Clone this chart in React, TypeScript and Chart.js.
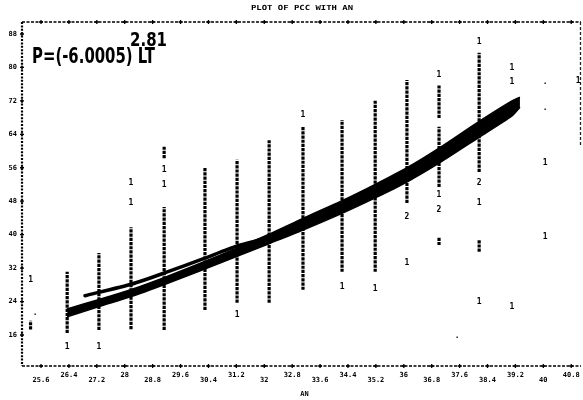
import React, { useEffect, useRef } from "react";
import { Chart, registerables } from "chart.js";

Chart.register(...registerables);

// ---- data ----
const xTicks = [25.6, 26.4, 27.2, 28, 28.8, 29.6, 30.4, 31.2, 32, 32.8, 33.6, 34.4, 35.2, 36, 36.8, 37.6, 38.4, 39.2, 40, 40.8];
const yTicks = [16, 24, 32, 40, 48, 56, 64, 72, 80, 88];

// thick fitted curve (upper and lower edge of the inked band)
const bandX = [26.35, 27.29, 28.21, 29.16, 30.24, 31.22, 32.17, 33.11, 34.23, 35.18, 36.09, 37.01, 38.16, 39.1, 39.33];
const bandTop = [22.25, 24.55, 26.95, 29.85, 33.4, 36.8, 40.25, 43.9, 48.1, 52.0, 56.0, 60.7, 67.1, 72.0, 72.9];
const bandBottom = [20.35, 22.85, 25.25, 28.15, 31.6, 34.8, 37.95, 41.1, 45.1, 48.8, 52.6, 57.1, 63.3, 68.4, 70.5];

// thin hand-drawn line above the band
const fitX = [26.86, 28.21, 29.16, 30.24, 31.22, 31.94];
const fitY = [25.4, 28.2, 30.9, 34.2, 37.3, 38.9];

// stacked printer columns (x, low, high)
const segX = [26.35, 27.26, 28.18, 29.13, 29.13, 30.3, 31.22, 32.14, 33.11, 34.23, 35.18, 36.09, 37.01, 37.01, 37.01, 38.16, 38.16, 25.3];
const segLow = [16.5, 17.2, 17.4, 17.2, 58.3, 22.0, 23.7, 23.7, 26.8, 31.1, 31.1, 47.6, 51.4, 67.9, 37.5, 55.0, 35.9, 17.3];
const segHigh = [31.1, 35.6, 41.8, 46.6, 61.0, 56.2, 57.9, 62.6, 65.8, 67.4, 72.2, 77.0, 65.8, 75.8, 39.4, 83.5, 38.7, 19.4];

// isolated printed characters
const charX = [26.35, 27.26, 28.18, 28.18, 29.13, 29.13, 31.22, 33.11, 34.23, 35.18, 36.09, 36.09, 37.01, 37.01, 37.01, 38.16, 38.16, 38.16, 38.16, 39.1, 39.1, 39.1, 40.05, 40.05, 41.0, 25.3, 40.05, 40.05, 25.43, 37.53];
const charY = [13.1, 13.2, 52.4, 47.6, 55.5, 51.9, 20.8, 68.6, 27.5, 27.0, 44.2, 33.2, 78.2, 49.5, 45.9, 86.1, 52.4, 47.6, 23.9, 79.9, 76.5, 22.7, 57.1, 39.4, 76.8, 29.2, 70.3, 76.5, 21.3, 15.8];
const charText = ["1", "1", "1", "1", "1", "1", "1", "1", "1", "1", "2", "1", "1", "1", "2", "1", "2", "1", "1", "1", "1", "1", "1", "1", "1", "1", ".", ".", ".", "."];

const titleText = "PLOT OF PCC WITH AN";
const xTitle = "AN";
const noteMain = "P=(-6.0005) LT";
const noteExp = "2.81";

const fmt = (v: number) => (Math.round(v * 10) / 10).toString();

const printPlugin = {
  id: "printplot",
  afterDatasetsDraw(chart: any) {
    const { ctx, chartArea: a, scales } = chart;
    const xs = scales.x;
    const ys = scales.y;
    ctx.save();
    ctx.fillStyle = "#000";
    ctx.strokeStyle = "#000";

    // isolated characters
    ctx.textAlign = "center";
    ctx.textBaseline = "middle";
    ctx.font = "bold 8px 'DejaVu Sans Mono'";
    for (let i = 0; i < charX.length; i++) {
      ctx.fillText(charText[i], xs.getPixelForValue(charX[i]), ys.getPixelForValue(charY[i]));
    }

    // frame
    ctx.lineWidth = 1.6;
    ctx.setLineDash([3, 1.5]);
    ctx.beginPath();
    ctx.moveTo(a.left, a.top);
    ctx.lineTo(a.right, a.top);
    ctx.moveTo(a.left, a.bottom);
    ctx.lineTo(a.right, a.bottom);
    ctx.stroke();
    ctx.lineWidth = 2.2;
    ctx.setLineDash([2, 1.4]);
    ctx.beginPath();
    ctx.moveTo(a.left, a.top);
    ctx.lineTo(a.left, a.bottom);
    ctx.stroke();
    ctx.lineWidth = 1.3;
    ctx.strokeStyle = "#222";
    ctx.setLineDash([3, 2]);
    ctx.beginPath();
    ctx.moveTo(a.right - 0.5, a.top);
    ctx.lineTo(a.right - 0.5, ys.getPixelForValue(61));
    ctx.stroke();
    ctx.setLineDash([]);
    ctx.strokeStyle = "#000";

    // plus marks
    ctx.lineWidth = 1.3;
    ctx.beginPath();
    for (const v of xTicks) {
      const px = xs.getPixelForValue(v);
      for (const py of [a.top, a.bottom]) {
        ctx.moveTo(px - 2, py);
        ctx.lineTo(px + 2, py);
        ctx.moveTo(px, py - 2);
        ctx.lineTo(px, py + 2);
      }
    }
    for (const v of yTicks) {
      const py = ys.getPixelForValue(v);
      ctx.moveTo(a.left - 2, py);
      ctx.lineTo(a.left + 2, py);
      ctx.moveTo(a.left, py - 2);
      ctx.lineTo(a.left, py + 2);
    }
    ctx.stroke();

    // tick labels
    ctx.font = "bold 7px 'DejaVu Sans Mono'";
    ctx.textAlign = "center";
    ctx.textBaseline = "middle";
    xTicks.forEach((v, i) => {
      const px = xs.getPixelForValue(v);
      const py = a.bottom + (i % 2 === 1 ? 9 : 14);
      ctx.fillText(fmt(v), px, py);
    });
    ctx.textAlign = "right";
    yTicks.forEach((v) => {
      ctx.fillText(String(v), a.left - 5, ys.getPixelForValue(v));
    });

    // axis title
    ctx.textAlign = "center";
    ctx.fillText(xTitle, (a.left + a.right) / 2 + 3, a.bottom + 28);

    // title
    ctx.font = "bold 7px 'DejaVu Sans Mono'";
    const tw = ctx.measureText(titleText).width;
    ctx.save();
    ctx.translate((a.left + a.right) / 2 + 0.5, a.top - 14);
    ctx.scale(102 / tw, 1);
    ctx.fillText(titleText, 0, 0);
    ctx.restore();

    // handwritten note
    ctx.textAlign = "left";
    ctx.textBaseline = "alphabetic";
    ctx.font = "bold 21px 'DejaVu Sans'";
    const nw = ctx.measureText(noteMain).width;
    ctx.save();
    ctx.translate(a.left + 10, a.top + 41);
    ctx.scale(123 / nw, 1);
    ctx.fillText(noteMain, 0, 0);
    ctx.restore();
    ctx.font = "bold 19px 'DejaVu Sans'";
    const ew = ctx.measureText(noteExp).width;
    ctx.save();
    ctx.translate(a.left + 108, a.top + 24);
    ctx.scale(37 / ew, 1);
    ctx.fillText(noteExp, 0, 0);
    ctx.restore();

    ctx.restore();
  },
};

export default function App() {
  const ref = useRef<HTMLCanvasElement | null>(null);
  useEffect(() => {
    if (!ref.current) return;
    const datasets: any[] = [
      {
        data: bandX.map((x, i) => ({ x, y: bandTop[i] })),
        borderColor: "#000",
        borderWidth: 1.5,
        pointRadius: 0,
        tension: 0.25,
        fill: false,
      },
      {
        data: bandX.map((x, i) => ({ x, y: bandBottom[i] })),
        borderColor: "#000",
        backgroundColor: "#000",
        borderWidth: 1.5,
        pointRadius: 0,
        tension: 0.25,
        fill: 0,
      },
      {
        data: fitX.map((x, i) => ({ x, y: fitY[i] })),
        borderColor: "#000",
        borderWidth: 3.5,
        borderCapStyle: "round",
        pointRadius: 0,
        tension: 0.2,
        fill: false,
      },
      ...segX.map((x, i) => ({
        data: [
          { x, y: segLow[i] },
          { x, y: segHigh[i] },
        ],
        borderColor: "#000",
        borderWidth: 3.2,
        borderDash: [3.2, 1],
        pointRadius: 0,
        fill: false,
      })),
    ];
    const chart = new Chart(ref.current, {
      type: "line",
      data: { datasets },
      options: {
        animation: false,
        responsive: false,
        devicePixelRatio: 1,
        layout: { padding: { left: 22, top: 22, right: 2, bottom: 34 } },
        plugins: { legend: { display: false }, tooltip: { enabled: false } },
        scales: {
          x: { type: "linear", min: 25.055, max: 41.08, display: false },
          y: { type: "linear", min: 8.58, max: 90.87, display: false },
        },
      },
      plugins: [printPlugin],
    });
    return () => chart.destroy();
  }, []);
  return (
    <div style={{ position: "fixed", left: 0, top: 0, width: 583, height: 400, background: "#fff" }}>
      <canvas ref={ref} width={583} height={400} style={{ width: 583, height: 400 }} />
    </div>
  );
}
